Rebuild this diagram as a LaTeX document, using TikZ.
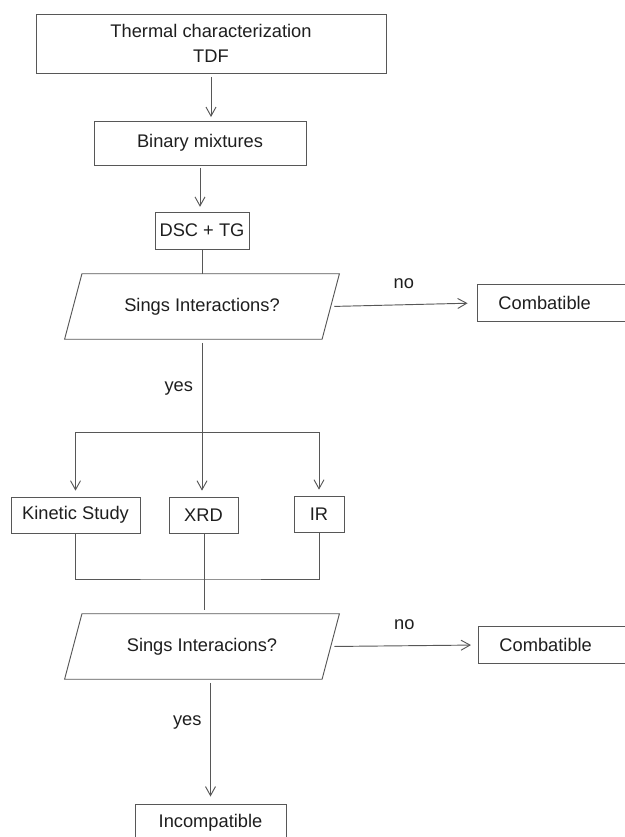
\documentclass[tikz,border=0pt]{standalone}
\usepackage{fontspec}
\setmainfont{Liberation Sans}
\usetikzlibrary{arrows.meta, positioning, shapes.geometric, calc}
\definecolor{linegray}{HTML}{575757}
\definecolor{textdark}{HTML}{1E1E1E}

\begin{document}
\begin{tikzpicture}[
  x=0.03cm, y=-0.03cm,
  font=\fontsize{15.6}{21.3}\selectfont,
  text=textdark,
  box/.style={draw=linegray, line width=0.8pt, align=center, inner sep=0pt},
  okbox/.style={draw=linegray, line width=0.8pt, align=left, text width=4cm, inner xsep=0.63cm, inner ysep=0pt, minimum height=1.12cm},
  ask/.style={minimum width=7.71cm, minimum height=1.95cm, inner sep=0pt},
  arr/.style={draw=linegray, line width=0.8pt, -{Straight Barb[length=0.27cm, width=0.3cm]}},
  ln/.style={draw=linegray, line width=0.8pt}
]
\useasboundingbox (0,0) rectangle (625,837);

\node[box, minimum width=10.5cm, minimum height=1.77cm] (tdf) at (211,43.5) {Thermal characterization\\TDF};
\node[box, minimum width=6.36cm, minimum height=1.32cm] (bin) at (200,143) {Binary mixtures};
\node[box, minimum width=2.82cm, minimum height=1.11cm] (dsc) at (202,230.5) {DSC + TG};
\node[ask] (sig1) at (202,306.5) {Sings Interactions?};
\node[okbox, anchor=west] (comb1) at (477,303) {Combatible};

\node[box, minimum width=3.87cm, minimum height=1.08cm] (kin) at (75.5,515) {Kinetic Study};
\node[box, minimum width=2.07cm, minimum height=1.08cm] (xrd) at (203.5,515) {XRD};
\node[box, minimum width=1.5cm, minimum height=1.08cm] (ir) at (319,514) {IR};
\coordinate (fork) at (201,432);
\coordinate (join) at (204,579);

\node[ask] (sig2) at (202,646.5) {Sings Interacions?};
\node[okbox, anchor=west] (comb2) at (478,645) {Combatible};
\node[box, minimum width=4.53cm, minimum height=1.14cm] (inc) at (210.5,823) {Incompatible};

% slanted decision outlines
\draw[ln, line join=miter] ([xshift=0.26cm]sig1.north west) -- ([xshift=0.26cm]sig1.north east) -- ([xshift=-0.26cm]sig1.south east) -- ([xshift=-0.26cm]sig1.south west) -- cycle;
\draw[ln, line join=miter] ([xshift=0.26cm]sig2.north west) -- ([xshift=0.26cm]sig2.north east) -- ([xshift=-0.26cm]sig2.south east) -- ([xshift=-0.26cm]sig2.south west) -- cycle;

% top chain
\draw[arr, shorten <=3pt, shorten >=3pt] (tdf) -- (bin.north -| tdf);
\draw[arr, shorten <=2pt, shorten >=4pt] (bin) -- (dsc.north -| bin);
\draw[ln] (dsc) -- (sig1.north);

% first decision
\draw[arr, shorten <=3pt, shorten >=8pt] (sig1.east) -- node[above=10pt] {no} (comb1.west);
\draw[arr, shorten <=3pt, shorten >=5pt] (sig1.south) -- node[pos=0.31, left=4pt] {yes} (sig1.south |- xrd.north);
\draw[arr, shorten >=5pt] (fork) -| (kin.north);
\draw[arr, shorten >=5pt] (fork) -| (ir.north);

% merge
\draw[ln] (kin.south) |- (join) -| (ir.south);
\draw[ln, shorten >=3pt] (xrd.south -| join) -- (sig2.north -| join);

% second decision
\draw[arr, shorten <=3pt, shorten >=6pt] (sig2.east) -- node[above=10pt] {no} (comb2.west);
\draw[arr, shorten <=3pt, shorten >=6pt] (sig2.south -| inc) -- node[pos=0.35, left=4pt] {yes} (inc.north);
\end{tikzpicture}
\end{document}
